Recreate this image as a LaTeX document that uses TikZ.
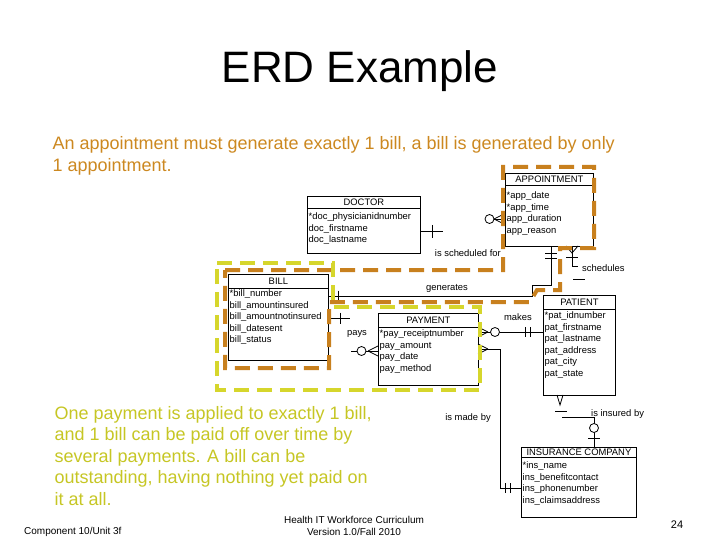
\documentclass[tikz,border=0pt]{standalone}
\usepackage{fontspec}
\setmainfont{Liberation Sans}
\usetikzlibrary{positioning}
\definecolor{noteorange}{RGB}{204,136,32}
\definecolor{noteyellow}{RGB}{198,198,36}
\definecolor{markorange}{RGB}{200,128,30}
\definecolor{markyellow}{RGB}{214,214,44}

\begin{document}
\begin{tikzpicture}[x=1pt,y=-1pt]
  \tikzstyle{entity} = [rectangle, draw, line width=0.8pt, anchor=north west, inner sep=0pt]
  \tikzstyle{etitle} = [font=\fontsize{9.4}{11}\selectfont, inner sep=0pt]
  \tikzstyle{attrs} = [font=\fontsize{9.4}{11.5}\selectfont, align=left, inner sep=0pt]
  \tikzstyle{rel} = [font=\fontsize{9.4}{11}\selectfont, inner sep=0pt]
  \tikzstyle{link} = [line width=0.8pt]
  \tikzstyle{ring} = [line width=0.8pt, fill=white]
  \tikzstyle{orangemark} = [markorange, line width=4pt, dash pattern=on 15pt off 8pt]
  \tikzstyle{yellowmark} = [markyellow, line width=4pt, dash pattern=on 15pt off 8pt]
  \tikzstyle{foot} = [font=\fontsize{10}{12}\selectfont, inner sep=0pt]

  \useasboundingbox (0,0) rectangle (720,540);

  \node [font=\fontsize{44}{50}\selectfont, anchor=base] (title) at (360,83) {ERD Example};
  \node [font=\fontsize{18}{22}\selectfont, text=noteorange, align=left, anchor=base west] (apptnote) at (49,172) {An appointment must generate exactly 1 bill, a bill is generated by only\\1 appointment.};
  \node [font=\fontsize{18}{21.5}\selectfont, text=noteyellow, align=left, anchor=base west] (billnote) at (51,505) {One payment is applied to exactly 1 bill,\\and 1 bill can be paid off over time by\\several payments. A bill can be\\outstanding, having nothing yet paid on\\it at all.};

  \node [entity, minimum width=113pt, minimum height=57pt] (doctor) at (307,196) {};
  \node [etitle, below=2.5pt of doctor.north] (doctortitle) {DOCTOR};
  \draw [link] ([yshift=-12pt]doctor.north west) -- ([yshift=-12pt]doctor.north east);
  \node [attrs, below right=16.5pt and 1.5pt of doctor.north west] (doctorattrs) {*doc\_physicianidnumber\\doc\_firstname\\doc\_lastname};

  \node [entity, minimum width=88pt, minimum height=73pt] (appt) at (505,173) {};
  \node [etitle, below=2.5pt of appt.north] (appttitle) {APPOINTMENT};
  \draw [link] ([yshift=-12pt]appt.north west) -- ([yshift=-12pt]appt.north east);
  \node [attrs, below right=18.5pt and 1.5pt of appt.north west] (apptattrs) {*app\_date\\*app\_time\\app\_duration\\app\_reason};

  \node [entity, minimum width=100pt, minimum height=86pt] (bill) at (228,274) {};
  \node [etitle, below=3.5pt of bill.north] (billtitle) {BILL};
  \draw [link] ([yshift=-14pt]bill.north west) -- ([yshift=-14pt]bill.north east);
  \node [attrs, below right=15.5pt and 1.5pt of bill.north west] (billattrs) {*bill\_number\\bill\_amountinsured\\bill\_amountnotinsured\\bill\_datesent\\bill\_status};

  \node [entity, minimum width=100pt, minimum height=72pt] (payment) at (378,313) {};
  \node [etitle, below=3.5pt of payment.north] (paymenttitle) {PAYMENT};
  \draw [link] ([yshift=-14pt]payment.north west) -- ([yshift=-14pt]payment.north east);
  \node [attrs, below right=16.5pt and 1.5pt of payment.north west] (paymentattrs) {*pay\_receiptnumber\\pay\_amount\\pay\_date\\pay\_method};

  \node [entity, minimum width=72pt, minimum height=100pt] (patient) at (543,295) {};
  \node [etitle, below=3.5pt of patient.north] (patienttitle) {PATIENT};
  \draw [link] ([yshift=-14pt]patient.north west) -- ([yshift=-14pt]patient.north east);
  \node [attrs, below right=16.5pt and 1.5pt of patient.north west] (patientattrs) {*pat\_idnumber\\pat\_firstname\\pat\_lastname\\pat\_address\\pat\_city\\pat\_state};

  \node [entity, minimum width=115pt, minimum height=70pt] (ins) at (521,447) {};
  \node [etitle, below=1.8pt of ins.north] (institle) {INSURANCE COMPANY};
  \draw [link] ([yshift=-10.5pt]ins.north west) -- ([yshift=-10.5pt]ins.north east);
  \node [attrs, below right=14.5pt and 1.5pt of ins.north west] (insattrs) {*ins\_name\\ins\_benefitcontact\\ins\_phonenumber\\ins\_claimsaddress};

  \node [rel, anchor=east] (schedfor) at (501,253) {is scheduled for};
  \node [rel, anchor=west] (schedules) at (582,268) {schedules};
  \node [rel] (generates) at (447,288) {generates};
  \node [rel] (makes) at (518,317) {makes};
  \node [rel] (pays) at (357,334) {pays};
  \node [rel] (madeby) at (468,418) {is made by};
  \node [rel, anchor=west] (insuredby) at (591,414) {is insured by};

  \coordinate (sf1) at (443,231);
  \coordinate (sf2) at (485,219);
  \draw [link] (doctor.east |- sf1) -- (sf1) (sf2) -- (appt.west |- sf2);
  \draw [link] (432,225) -- (432,238);
  \draw [ring] (489.5,219) circle (4.5pt);
  \draw [link] (494,219) -- (505,213.5) (494,219) -- (505,224.5);

  \coordinate (gn1) at (532,296);
  \coordinate (gn2) at (532,285);
  \coordinate (gn3) at (551,285);
  \draw [link] (bill.east |- gn1) -- (gn1) -- (gn2) -- (gn3) -- (appt.south -| gn3);
  \draw [link] (338,290.5) -- (338,301.5);
  \draw [link] (545,253) -- (557,253) (545,258) -- (557,258);

  \coordinate (sc1) at (572,266);
  \draw [link] (appt.south -| sc1) -- (sc1) -- ++(6,0);
  \draw [link] (566,246) -- (572,253) -- (578,246);
  \draw [link] (566,257) -- (578,257);
  \draw [link] (573,279) -- (585,279);

  \coordinate (py1) at (350,318);
  \coordinate (py2) at (351,351);
  \draw [link] (bill.east |- py1) -- (py1) (py2) -- (payment.west |- py2);
  \draw [link] (340,312.5) -- (340,323.5);
  \draw [ring] (361.5,351) circle (4.5pt);
  \draw [link] (368,351) -- (378,346) (368,351) -- (378,356);

  \coordinate (mk) at (500,332);
  \draw [link] (payment.east |- mk) -- (patient.west |- mk);
  \draw [ring] (495,332) circle (4.5pt);
  \draw [link] (488,332) -- (478,327) (488,332) -- (478,337);
  \draw [link] (525,327) -- (525,337) (530,327) -- (530,337);

  \coordinate (mb1) at (500,349);
  \coordinate (mb2) at (500,488);
  \draw [link] (payment.east |- mb1) -- (mb1) -- (mb2) -- (ins.west |- mb2);
  \draw [link] (488,349) -- (478,344) (488,349) -- (478,354);
  \draw [link] (505,483) -- (505,493) (510,483) -- (510,493);

  \coordinate (ib1) at (562,417);
  \coordinate (ib2) at (594,417);
  \draw [link] (ib1) -- (ib2) -- (ins.north -| ib2);
  \draw [link] (557,395) -- (560,405) -- (563,395);
  \draw [link] (555,411) -- (567,411);
  \draw [ring] (594,428) circle (4.5pt);
  \draw [link] (588,438) -- (600,438);

  \draw [orangemark] (225,270) -- (503,270) -- (503,167) -- (594,167) -- (594,248) -- (560,248) -- (560,290) -- (537,290) -- (530,302) -- (329,302) -- (329,368) -- (225,368) -- cycle;
  \draw [yellowmark] (217,263) -- (333,263) -- (333,307) -- (480,307) -- (480,390) -- (217,390) -- cycle;

  \node [foot, anchor=base west] (unit) at (24,534) {Component 10/Unit 3f};
  \node [foot, align=center, anchor=base] (curric) at (354,535) {Health IT Workforce Curriculum\\Version 1.0/Fall 2010};
  \node [font=\fontsize{11}{13}\selectfont, anchor=base] (page) at (677,528) {24};
\end{tikzpicture}
\end{document}
